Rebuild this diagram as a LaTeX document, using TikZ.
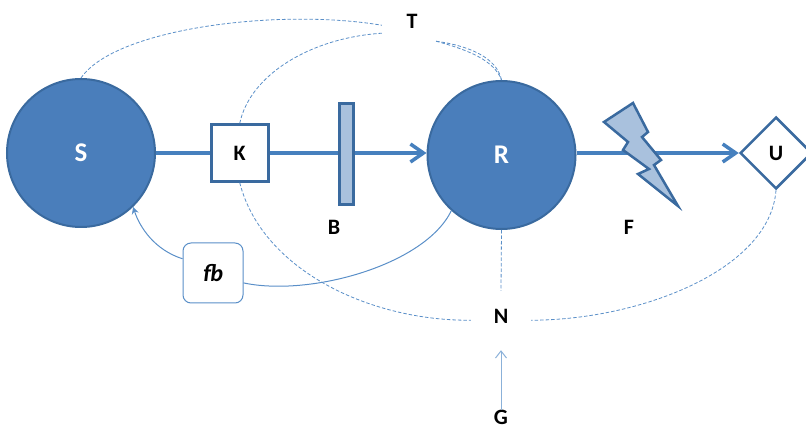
\documentclass[tikz,border=0pt]{standalone}
\usepackage{fontspec}
\setmainfont{Carlito}
\usetikzlibrary{arrows.meta, positioning, shapes.geometric}
\definecolor{bluefill}{HTML}{4A7EBB}
\definecolor{blueedge}{HTML}{3A6A9F}
\definecolor{bluelight}{HTML}{A9C1DD}
\definecolor{blueline}{HTML}{5A8FC8}
\definecolor{bluemain}{HTML}{4680BE}
\tikzset{
    bignode/.style={circle, draw=blueedge, fill=bluefill, line width=2pt, minimum size=148pt, inner sep=0pt, text=white, font=\fontsize{27}{30}\selectfont\bfseries},
    boxnode/.style={rectangle, draw=blueedge, fill=white, line width=2.5pt, minimum size=57pt, inner sep=0pt},
    label/.style={inner sep=0pt, minimum width=60pt, minimum height=40pt},
    mainarrow/.style={draw=bluemain, line width=3.5pt},
    bigtip/.style={-{Straight Barb[length=13pt, width=18pt, line width=3.5pt]}},
    thinline/.style={draw=blueline, line width=1pt},
    dashline/.style={draw=blueline, line width=0.8pt, dash pattern=on 3.5pt off 2pt}
}
\begin{document}
\begin{tikzpicture}[x=1pt, y=-1pt, font=\fontsize{22}{24}\selectfont\bfseries]
    \useasboundingbox (0,0) rectangle (806,430);
    \node[bignode] (S) at (81,153) {S};
    \node[boxnode, right=54pt of S] (K) {K};
    \node[bignode, right=157pt of K, yshift=-2pt] (R) {R};
    \node[diamond, draw=blueedge, fill=white, line width=2.5pt, minimum size=72pt, inner sep=0pt] (U) at (776,153) {U};
    \node[label] (T) at (412,21) {T};
    \node[label, minimum height=50pt] (N) at (501,316) {N};
    \node[inner sep=0pt] (G) at (501,417) {G};
    \node[rectangle, rounded corners=8pt, draw=blueline, fill=white, line width=1pt, minimum size=60pt, inner sep=0pt, font=\fontsize{24}{26}\selectfont\bfseries\itshape] (fb) at (213,273) {fb};
    % main line
    \draw[mainarrow] (S) -- (K);
    \draw[mainarrow, bigtip] (K.east) -- (K.east -| R.west);
    \draw[mainarrow, bigtip] (U.west -| R.east) -- (U.west);
    \node[rectangle, draw=blueedge, fill=bluelight, line width=2.5pt, minimum width=14pt, minimum height=101pt, inner sep=0pt] (B) at (346.5,154) {};
    \node[inner sep=0pt] (Blabel) at (334,227) {B};
    \filldraw[draw=blueedge, fill=bluelight, line width=2.5pt] (604,122) -- (633,103) -- (648,132) -- (642,137) -- (661,160) -- (654,165) -- (678,206) -- (638,174) -- (649,169) -- (623,150) -- (628,142) -- cycle;
    \node[inner sep=0pt] (Flabel) at (629,227) {F};
    % dashed links
    \draw[dashline] (S.north) .. controls (115,28) and (280,8) .. (T.188);
    \draw[dashline] (K.north) .. controls (250,75) and (310,38) .. (T.202);
    \draw[dashline] (T.320) .. controls (470,46) and (497,58) .. (R.north);
    \draw[dashline] (T.320) .. controls (468,50) and (494,60) .. (R.north);
    \draw[dashline] (K.south) .. controls (262,270) and (370,321) .. (N.188);
    \draw[dashline] (R.south) -- (N.north);
    \draw[dashline] (U.south) .. controls (770,270) and (640,320) .. (N.352);
    % feedback
    \draw[thinline] (R.228) .. controls (425,265) and (310,297) .. (fb.-18);
    \draw[thinline, -{Stealth[length=7pt, width=7pt]}] (fb.155) .. controls (155,250) and (140,228) .. (S.-46);
    \draw[thinline, draw=blueline!70!white, -{Straight Barb[length=7pt, width=11pt]}, shorten >=9pt] (G) -- (N);
\end{tikzpicture}
\end{document}
